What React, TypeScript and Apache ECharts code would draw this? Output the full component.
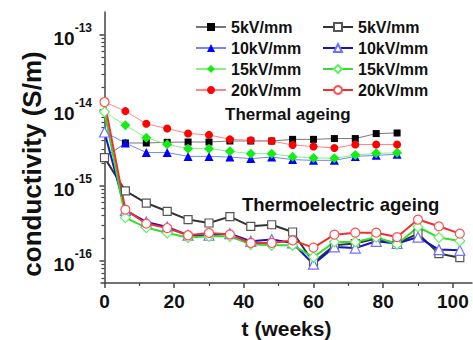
import React, { useEffect, useRef } from "react";
import * as echarts from "echarts";

// weeks
const weeksThermal = [0, 6, 12, 18, 24, 30, 36, 42, 48, 54, 60, 66, 72, 78, 84];
const weeksElectric = [0, 6, 12, 18, 24, 30, 36, 42, 48, 54, 60, 66, 72, 78, 84, 90, 96, 102];

// Thermal ageing (filled markers), S/m
const thermal5 = [2.35e-15, 3.67e-15, 3.67e-15, 3.75e-15, 3.78e-15, 3.78e-15, 3.9e-15, 3.9e-15, 3.9e-15, 4.1e-15, 4.1e-15, 4.2e-15, 4.2e-15, 4.89e-15, 4.98e-15];
const thermal10 = [5.13e-15, 3.67e-15, 2.74e-15, 2.74e-15, 2.44e-15, 2.44e-15, 2.39e-15, 2.28e-15, 2.39e-15, 2.21e-15, 2.16e-15, 2.16e-15, 2.44e-15, 2.52e-15, 2.6e-15];
const thermal15 = [9.5e-15, 6.3e-15, 4.32e-15, 3.52e-15, 3.09e-15, 3.09e-15, 2.85e-15, 2.65e-15, 2.65e-15, 2.42e-15, 2.33e-15, 2.3e-15, 2.54e-15, 2.68e-15, 2.72e-15];
const thermal20 = [1.28e-14, 9.7e-15, 6.6e-15, 5.7e-15, 4.9e-15, 4.7e-15, 4.1e-15, 4.0e-15, 3.9e-15, 3.45e-15, 3.3e-15, 3.15e-15, 3.5e-15, 3.5e-15, 3.5e-15];

// Thermoelectric ageing (open markers), S/m
const electric5 = [2.35e-15, 8.5e-16, 5.88e-16, 4.57e-16, 3.55e-16, 3.2e-16, 3.88e-16, 2.89e-16, 3.03e-16, 2.43e-16, 9.6e-17, 1.62e-16, 1.71e-16, 1.99e-16, 1.71e-16, 2.31e-16, 1.26e-16, 1.11e-16];
const electric10 = [5.13e-15, 4.71e-16, 3.3e-16, 2.83e-16, 2.2e-16, 2.2e-16, 2.31e-16, 1.83e-16, 1.93e-16, 1.74e-16, 9.1e-17, 1.54e-16, 1.49e-16, 1.83e-16, 1.71e-16, 2.08e-16, 1.42e-16, 1.39e-16];
const electric15 = [9.5e-15, 3.77e-16, 2.78e-16, 2.36e-16, 2.05e-16, 2.13e-16, 2.13e-16, 1.67e-16, 1.62e-16, 1.62e-16, 1.13e-16, 1.79e-16, 1.79e-16, 2.08e-16, 1.67e-16, 2.83e-16, 2.05e-16, 1.85e-16];
const electric20 = [1.28e-14, 4.8e-16, 3.14e-16, 2.74e-16, 2.2e-16, 2.36e-16, 2.26e-16, 1.74e-16, 1.74e-16, 1.88e-16, 1.51e-16, 2.24e-16, 2.38e-16, 2.38e-16, 2.08e-16, 3.55e-16, 2.89e-16, 2.31e-16];

const legendLabels = ["5kV/mm", "10kV/mm", "15kV/mm", "20kV/mm"];
const xTickValues = [0, 20, 40, 60, 80, 100];
const xMinorTickValues = [10, 30, 50, 70, 90];
const yTickValues = [1e-16, 1e-15, 1e-14, 1e-13];
const yMinorTickValues = [
  6e-17, 7e-17, 8e-17, 9e-17,
  2e-16, 3e-16, 4e-16, 5e-16, 6e-16, 7e-16, 8e-16, 9e-16,
  2e-15, 3e-15, 4e-15, 5e-15, 6e-15, 7e-15, 8e-15, 9e-15,
  2e-14, 3e-14, 4e-14, 5e-14, 6e-14, 7e-14, 8e-14, 9e-14,
];

const FONT = "'Liberation Sans', Arial, sans-serif";
const AXIS = "#444";

function pairs(xs: number[], ys: number[]) {
  return ys.map((v, i) => [xs[i], v]);
}

export default function App() {
  const ref = useRef<HTMLDivElement>(null);
  useEffect(() => {
    if (!ref.current) return;
    document.body.style.margin = "0";
    const chart = echarts.init(ref.current, null, { renderer: "svg" });

    const thermalDefs = [
      { id: "T5", data: thermal5, symbol: "rect", size: 7, mark: "#000000", line: "#777777" },
      { id: "T10", data: thermal10, symbol: "triangle", size: 9, mark: "#0000ff", line: "#6f86ff" },
      { id: "T15", data: thermal15, symbol: "diamond", size: 10, mark: "#11ee11", line: "#88ee88" },
      { id: "T20", data: thermal20, symbol: "circle", size: 8, mark: "#ff0000", line: "#ff8585" },
    ];
    const electricDefs = [
      { id: "E5", data: electric5, symbol: "rect", size: 8, mark: "#555555", line: "#333333" },
      { id: "E10", data: electric10, symbol: "triangle", size: 10, mark: "#7070ff", line: "#1414c8" },
      { id: "E15", data: electric15, symbol: "diamond", size: 10, mark: "#66ee66", line: "#33dd33" },
      { id: "E20", data: electric20, symbol: "circle", size: 9, mark: "#ff5050", line: "#ee3030" },
    ];
    const labelOf: Record<string, string> = {};
    thermalDefs.forEach((d, i) => (labelOf[d.id] = legendLabels[i]));
    electricDefs.forEach((d, i) => (labelOf[d.id] = legendLabels[i]));

    const series: any[] = [];
    thermalDefs.forEach((d) =>
      series.push({
        name: d.id,
        type: "line",
        xAxisIndex: 0,
        yAxisIndex: 0,
        data: pairs(weeksThermal, d.data),
        symbol: d.symbol,
        symbolSize: d.size,
        showAllSymbol: true,
        itemStyle: { color: d.mark },
        lineStyle: { color: d.line, width: 1 },
        z: 2,
      })
    );
    electricDefs.forEach((d) =>
      series.push({
        name: d.id,
        type: "line",
        xAxisIndex: 0,
        yAxisIndex: 0,
        data: pairs(weeksElectric, d.data),
        symbol: d.symbol,
        symbolSize: d.size,
        showAllSymbol: true,
        itemStyle: { color: "#ffffff", borderColor: d.mark, borderWidth: 1.2 },
        lineStyle: { color: d.line, width: 2 },
        z: 3,
      })
    );

    const legendCommon = {
      orient: "vertical",
      itemWidth: 30,
      itemHeight: 10,
      itemGap: 5,
      padding: 0,
      selectedMode: false,
      formatter: (n: string) => labelOf[n],
      textStyle: { fontFamily: FONT, fontWeight: "bold", fontSize: 16, color: "#111" },
    };

    const yMin = Math.pow(10, -16.29);
    const yMax = Math.pow(10, -12.7);

    chart.setOption({
      animation: false,
      backgroundColor: "#ffffff",
      grid: { left: 101, right: 1, top: 12, bottom: 57, outerBoundsMode: "none", containLabel: false },
      legend: [
        { ...legendCommon, left: 195, top: 19, data: thermalDefs.map((d) => d.id) },
        { ...legendCommon, left: 322, top: 19, data: electricDefs.map((d) => d.id) },
      ],
      xAxis: [
        {
          type: "value",
          min: -1,
          max: 105.5,
          position: "bottom",
          name: "t (weeks)",
          nameLocation: "middle",
          nameGap: 35,
          nameMoveOverlap: false,
          nameTextStyle: { fontFamily: FONT, fontWeight: "bold", fontSize: 21, color: "#111" },
          splitLine: { show: false },
          axisLine: { show: true, lineStyle: { color: AXIS, width: 1.5 } },
          axisTick: { show: true, inside: false, length: 5, customValues: xTickValues, lineStyle: { color: AXIS, width: 1.5 } },
          axisLabel: {
            show: true,
            margin: 9,
            customValues: xTickValues,
            fontFamily: FONT,
            fontWeight: "bold",
            fontSize: 19,
            color: "#111",
          },
        },
        {
          type: "value",
          min: -1,
          max: 105.5,
          position: "bottom",
          splitLine: { show: false },
          axisLine: { show: false },
          axisLabel: { show: false },
          axisTick: { show: true, inside: false, length: 3, customValues: xMinorTickValues, lineStyle: { color: AXIS, width: 1.2 } },
        },
      ],
      yAxis: [
        {
          type: "log",
          logBase: 10,
          min: yMin,
          max: yMax,
          position: "left",
          splitLine: { show: false },
          axisLine: { show: true, lineStyle: { color: AXIS, width: 1.5 } },
          axisTick: { show: true, inside: false, length: 5, customValues: yTickValues, lineStyle: { color: AXIS, width: 1.5 } },
          axisLabel: {
            show: true,
            margin: 9,
            customValues: yTickValues,
            formatter: (v: number) => `{b|10}{s|${Math.round(Math.log10(v))}}`,
            rich: {
              b: { fontFamily: FONT, fontWeight: "bold", fontSize: 19, color: "#111", lineHeight: 26, verticalAlign: "bottom" },
              s: { fontFamily: FONT, fontWeight: "bold", fontSize: 12, color: "#111", lineHeight: 12, verticalAlign: "top" },
            },
          },
        },
        {
          type: "log",
          logBase: 10,
          min: yMin,
          max: yMax,
          position: "left",
          splitLine: { show: false },
          axisLine: { show: false },
          axisLabel: { show: false },
          axisTick: { show: true, inside: false, length: 3, customValues: yMinorTickValues, lineStyle: { color: AXIS, width: 1.2 } },
        },
      ],
      graphic: [
        {
          type: "text",
          x: 32,
          y: 164,
          rotation: Math.PI / 2,
          style: {
            text: "conductivity (S/m)",
            fontFamily: FONT,
            fontWeight: "bold",
            fontSize: 26,
            fill: "#111",
            align: "center",
            verticalAlign: "middle",
          },
        },
        {
          type: "text",
          left: 225,
          top: 106,
          style: { text: "Thermal ageing", fontFamily: FONT, fontWeight: "bold", fontSize: 17, fill: "#111" },
        },
        {
          type: "text",
          left: 242,
          top: 195,
          style: { text: "Thermoelectric ageing", fontFamily: FONT, fontWeight: "bold", fontSize: 18.5, fill: "#111" },
        },
      ],
      series,
    });
    return () => chart.dispose();
  }, []);
  return <div ref={ref} style={{ position: "absolute", left: 0, top: 0, width: 473, height: 340 }} />;
}
